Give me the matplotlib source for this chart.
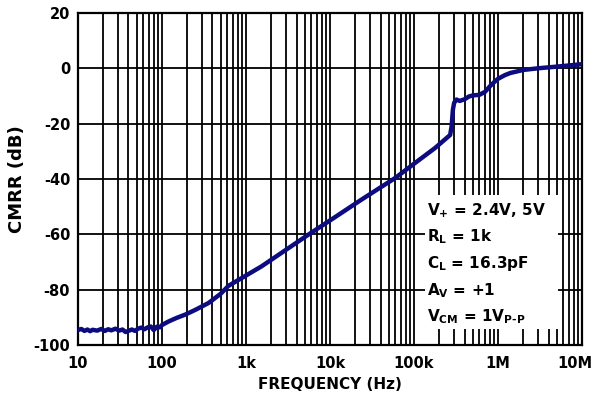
import matplotlib
matplotlib.use("Agg")
import matplotlib.pyplot as plt
import matplotlib.transforms as mtransforms
from matplotlib.patches import Rectangle
from matplotlib.ticker import LogLocator, NullFormatter

# wide bold sans to match the stretched datasheet lettering
fam = "DejaVu Sans"
plt.rcParams["font.family"] = [fam]
plt.rcParams["font.weight"] = "bold"
plt.rcParams["axes.unicode_minus"] = False
plt.rcParams["mathtext.fontset"] = "custom"
plt.rcParams["mathtext.rm"] = fam + ":bold"
plt.rcParams["mathtext.it"] = fam + ":bold"
plt.rcParams["mathtext.bf"] = fam + ":bold"
plt.rcParams["mathtext.default"] = "rm"

# data
freq = [10, 11, 12, 13, 14, 15, 17, 19, 21, 23, 25, 28, 31, 34, 37, 40,
        44, 48, 52, 57, 62, 68, 74, 80, 87, 95, 100,
        120, 150, 190, 250, 360, 500, 621, 1000, 1530, 6000, 10000, 23600,
        60000, 100000, 178000, 269000, 280000, 290000, 300000, 320000,
        350000, 400000, 450000, 500000, 600000, 700000, 800000, 900000,
        1.0e6, 1.2e6, 1.4e6, 2e6, 3e6, 5e6, 8e6, 1e7]
cmrr = [-94.6, -94.2, -94.9, -94.4, -95.0, -94.5, -94.8, -94.2, -94.9,
        -94.3, -94.7, -94.1, -94.8, -94.4, -95.3, -94.9, -94.4, -94.9,
        -94.1, -93.7, -94.3, -93.6, -93.3, -94.6, -93.4, -93.6, -92.8,
        -91.5, -90.2, -89.0, -87.3, -84.8, -81.5, -78.6, -74.9, -71.6,
        -59.4, -55.0, -47.5, -39.6, -34.5, -28.8, -24.1, -21.0, -15.0,
        -12.5, -11.3, -11.8, -11.2, -10.2, -9.8, -9.6, -8.5, -6.5, -5.0,
        -3.8, -2.5, -1.7, -0.6, 0.0, 0.6, 1.2, 1.5]

xticks = [10, 100, 1e3, 1e4, 1e5, 1e6, 1e7]
xticklabels = ["10", "100", "1k", "10k", "100k", "1M", "10M"]
yticks = [-100, -80, -60, -40, -20, 0, 20]

notes = [r"V$_{+}$ = 2.4V, 5V", r"R$_{L}$ = 1k", r"C$_{L}$ = 16.3pF",
         r"A$_{V}$ = +1", "V$_{CM}$ = 1V$_{P\u2010P}$"]

fig = plt.figure(figsize=(5.94, 4.04), dpi=100)
ax = fig.add_axes([0.131, 0.146, 0.849, 0.822])

ax.semilogx(freq, cmrr, color="#0c0c80", linewidth=3.2, zorder=3,
            solid_capstyle="round", solid_joinstyle="round")
ax.set_xlim(10, 1e7)
ax.set_ylim(-100, 20)
ax.set_xticks(xticks)
ax.set_xticklabels(xticklabels)
ax.xaxis.set_minor_locator(LogLocator(base=10, subs=range(2, 10), numticks=100))
ax.xaxis.set_minor_formatter(NullFormatter())
ax.set_yticks(yticks)
ax.tick_params(which="both", length=0, labelsize=10.5)
ax.tick_params(axis="x", pad=8)
ax.tick_params(axis="y", pad=5.5)
for lab in ax.get_xticklabels() + ax.get_yticklabels():
    lab.set_fontweight("bold")
# last x label sits a bit left, inside the figure
last = ax.get_xticklabels()[-1]
last.set_transform(last.get_transform() +
                   mtransforms.ScaledTranslation(-7 / 100, 0, fig.dpi_scale_trans))

ax.grid(True, which="both", axis="x", color="black", linewidth=1.3)
ax.grid(True, which="major", axis="y", color="black", linewidth=1.3)
for s in ax.spines.values():
    s.set_linewidth(1.6)

ax.set_xlabel("FREQUENCY (Hz)", fontsize=11, fontweight="bold", labelpad=4)
ax.set_ylabel("CMRR (dB)", fontsize=13, fontweight="bold", labelpad=5)

# white box behind the conditions
ax.add_patch(Rectangle((0.688, 0.048), 0.264, 0.404, transform=ax.transAxes,
                       facecolor="white", edgecolor="none", zorder=4))
for i, t in enumerate(notes):
    ax.text(0.693, 0.405 - i * 0.08, t, transform=ax.transAxes, fontsize=11,
            fontweight="bold", va="center", ha="left", zorder=5)

fig.savefig("out.png", dpi=100)
